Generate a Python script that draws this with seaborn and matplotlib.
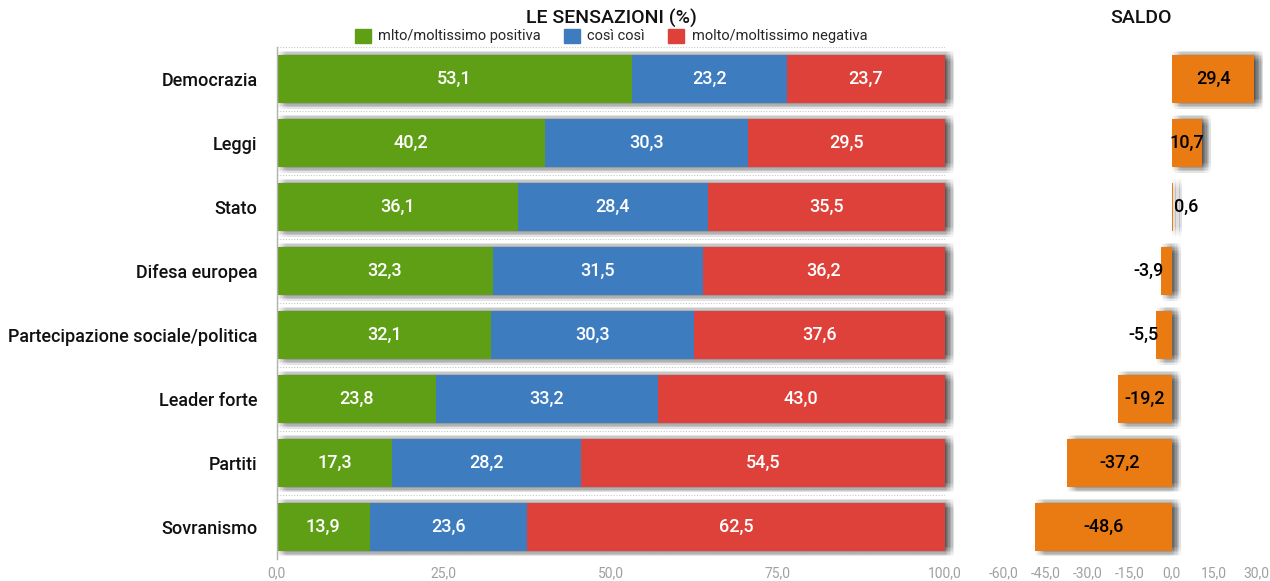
import matplotlib
matplotlib.use("Agg")
import matplotlib.pyplot as plt
import matplotlib.patheffects as pe
import seaborn as sns
import pandas as pd
import numpy as np

categories = ["Democrazia", "Leggi", "Stato", "Difesa europea",
              "Partecipazione sociale/politica", "Leader forte", "Partiti", "Sovranismo"]
positiva = [53.1, 40.2, 36.1, 32.3, 32.1, 23.8, 17.3, 13.9]
cosi = [23.2, 30.3, 28.4, 31.5, 30.3, 33.2, 28.2, 23.6]
negativa = [23.7, 29.5, 35.5, 36.2, 37.6, 43.0, 54.5, 62.5]
saldo = [29.4, 10.7, 0.6, -3.9, -5.5, -19.2, -37.2, -48.6]

series_names = ["mlto/moltissimo positiva", "così così", "molto/moltissimo negativa"]
main_ticks = [0, 25, 50, 75, 100]
saldo_ticks = [-60, -45, -30, -15, 0, 15, 30]

GREEN = "#5f9f16"
BLUE = "#3e7cc0"
RED = "#de4139"
ORANGE = "#ea7b12"
TICK_GREY = "#a0a0a0"

sns.set_theme(style="white")
plt.rcParams["font.family"] = ["Roboto", "DejaVu Sans"]

df = pd.DataFrame({"cat": categories, "pos": positiva, "cosi": cosi, "neg": negativa, "saldo": saldo})
df["cum2"] = df["pos"] + df["cosi"]
df["cum3"] = df["cum2"] + df["neg"]

fig = plt.figure(figsize=(12.7, 5.81), dpi=100)
ax = fig.add_axes([0.218, 0.038, 0.526, 0.881])
ax2 = fig.add_axes([0.790, 0.038, 0.199, 0.881])


def soft_shadow():
    # blurred drop shadow built from many faint offset copies
    effects = []
    for dx in np.arange(0.5, 6.6, 1.0):
        for dy in np.arange(-4.0, 3.1, 1.0):
            effects.append(pe.SimplePatchShadow(offset=(dx, dy), shadow_rgbFace="black", alpha=0.016))
    return effects + [pe.Normal()]


# stacked bars drawn as overlapping cumulative totals
sns.barplot(data=df, x="cum3", y="cat", color=RED, saturation=1, width=0.75, ax=ax, orient="h")
for p in ax.patches:
    p.set_path_effects(soft_shadow())
sns.barplot(data=df, x="cum2", y="cat", color=BLUE, saturation=1, width=0.75, ax=ax, orient="h")
sns.barplot(data=df, x="pos", y="cat", color=GREEN, saturation=1, width=0.75, ax=ax, orient="h")
for p in ax.patches:
    p.set_linewidth(0)
    p.set_clip_on(False)

for i, row in df.iterrows():
    for start, val in [(0, row["pos"]), (row["pos"], row["cosi"]), (row["cum2"], row["neg"])]:
        ax.text(start + val / 2, i, f"{val:.1f}".replace(".", ","), ha="center", va="center",
                color="white", fontsize=13, fontweight="medium")

ax.set_xlim(0, 100)
ax.set_ylim(len(categories) - 0.5, -0.5)
ax.set_xticks(main_ticks)
ax.set_xticklabels([f"{t:.1f}".replace(".", ",") for t in main_ticks], color=TICK_GREY, fontsize=10)
ax.set_xlabel("")
ax.set_ylabel("")
ax.tick_params(axis="y", labelsize=13, pad=14, length=0)
ax.tick_params(axis="x", length=0, pad=5)
for lbl in ax.get_yticklabels():
    lbl.set_color("#111111")
    lbl.set_fontweight("medium")
for s in ["top", "right", "bottom"]:
    ax.spines[s].set_visible(False)
ax.spines["left"].set_color("#b0b0b0")
ax.spines["left"].set_linewidth(1)
for yb in np.arange(-0.5, len(categories), 1.0):
    ax.axhline(yb, color="#c8c8c8", lw=0.8, ls=(0, (1, 1.5)), zorder=0)

# saldo panel
sns.barplot(data=df, x="saldo", y="cat", color=ORANGE, saturation=1, width=0.75, ax=ax2, orient="h")
for p in ax2.patches:
    p.set_linewidth(0)
    p.set_clip_on(False)
    p.set_path_effects(soft_shadow())
for i, v in enumerate(saldo):
    if abs(v) >= 10:
        xp = v / 2
    else:
        xp = v + np.sign(v) * 4.5
    ax2.text(xp, i, f"{v:.1f}".replace(".", ","), ha="center", va="center",
             color="black", fontsize=13, fontweight="medium")
ax2.set_xlim(-60, 30)
ax2.set_ylim(len(categories) - 0.5, -0.5)
ax2.set_xticks(saldo_ticks)
ax2.set_xticklabels([f"{t:.1f}".replace(".", ",") for t in saldo_ticks], color=TICK_GREY, fontsize=10)
ax2.set_yticks([])
ax2.set_xlabel("")
ax2.set_ylabel("")
ax2.tick_params(axis="x", length=0, pad=5)
for s in ax2.spines.values():
    s.set_visible(False)

# titles and legend
fig.text(611 / 1270, 1 - 18 / 581, "LE SENSAZIONI (%)", ha="center", va="center",
         fontsize=14, fontweight="medium", color="#111111")
fig.text(1141 / 1270, 1 - 18 / 581, "SALDO", ha="center", va="center",
         fontsize=14, fontweight="medium", color="#111111")
handles = [plt.Rectangle((0, 0), 1, 1, color=c) for c in (GREEN, BLUE, RED)]
fig.legend(handles, series_names, loc="center", bbox_to_anchor=(611 / 1270, 1 - 36 / 581),
           ncol=3, frameon=False, fontsize=10.5, handlelength=1.1, handleheight=1.1,
           handletextpad=0.5, columnspacing=1.6, borderpad=0)

fig.savefig("out.png", dpi=100, facecolor="white")
